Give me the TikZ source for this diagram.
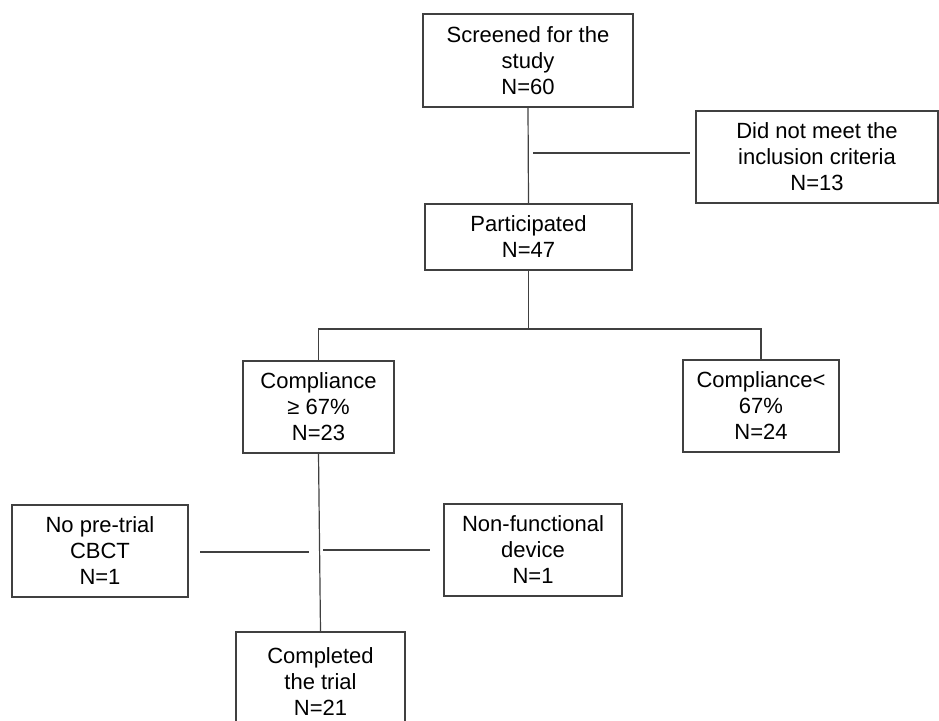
\documentclass[tikz,border=0pt]{standalone}
\usepackage{fontspec}
\setmainfont{Liberation Sans}
\definecolor{linegray}{HTML}{404040}
\tikzset{
  box/.style={draw=linegray, line width=1.2pt, align=center, inner sep=0pt,
    font=\fontsize{22}{26}\selectfont, text=black},
  conn/.style={draw=linegray, line width=1.2pt}
}
\begin{document}
\begin{tikzpicture}[x=1pt,y=-1pt]
\useasboundingbox (0,0) rectangle (939,720);
\node[box, minimum width=210pt, minimum height=93pt] (s) at (528,60.5) {Screened for the\\study\\N=60};
\node[box, minimum width=242pt, minimum height=92pt] (d) at (817,157) {Did not meet the\\inclusion criteria\\N=13};
\node[box, minimum width=207pt, minimum height=66pt] (p) at (528.5,237) {Participated\\N=47};
\node[box, minimum width=151pt, minimum height=92pt] (c1) at (318.5,407) {Compliance\\≥ 67\%\\N=23};
\node[box, minimum width=156pt, minimum height=92pt] (c2) at (761,406) {Compliance<\\67\%\\N=24};
\node[box, minimum width=176pt, minimum height=92pt] (n) at (100,551) {No pre-trial\\CBCT\\N=1};
\node[box, minimum width=178pt, minimum height=92pt] (nf) at (533,550) {Non-functional\\device\\N=1};
\node[box, minimum width=169pt, minimum height=100pt] (f) at (320.5,682) {Completed\\the trial\\N=21};
% connectors
\draw[conn] (s.south) -- (p.north);
\coordinate (d1) at (533,153);
\coordinate (d2) at (690,153);
\draw[conn] (d1) -- (d2);
\coordinate (br) at (530,329);
\draw[conn] (p.south) -- (p.south |- br);
\draw[conn] (c1.north) |- (br) -| (c2.north);
\draw[conn] (c1.south) -- (f.north);
\coordinate (l1) at (200,552);
\coordinate (l2) at (309,552);
\coordinate (r1) at (323,550);
\coordinate (r2) at (430,550);
\draw[conn] (l1) -- (l2);
\draw[conn] (r1) -- (r2);
\end{tikzpicture}
\end{document}
